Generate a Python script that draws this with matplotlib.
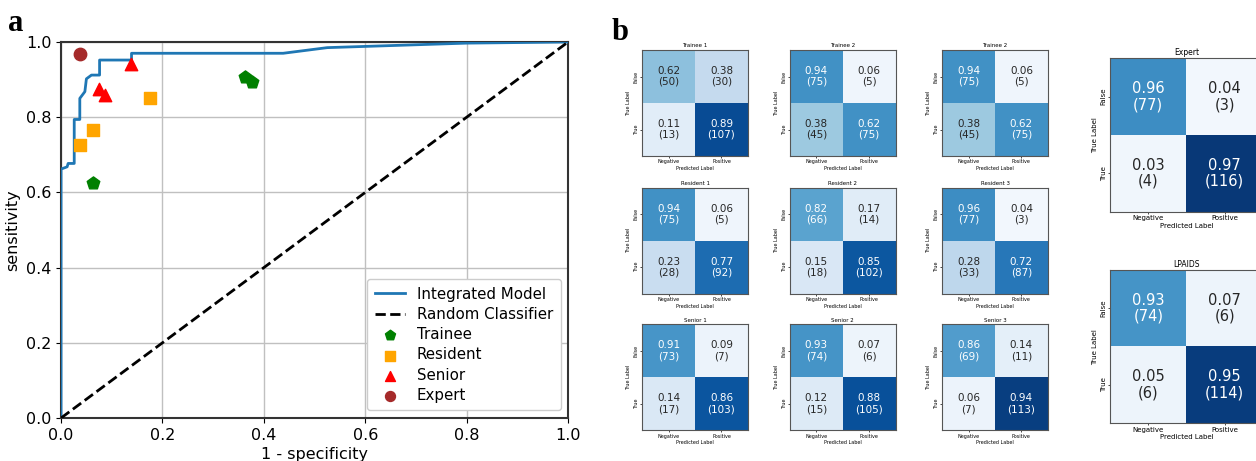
import matplotlib
matplotlib.use('Agg')
import matplotlib.pyplot as plt
import numpy as np

# ROC curve of the integrated model
roc_fpr = [0.0, 0.0, 0.012, 0.014, 0.026, 0.026, 0.037, 0.037, 0.047, 0.050, 0.060,
           0.076, 0.076, 0.139, 0.139, 0.438, 0.525, 0.80, 1.0]
roc_tpr = [0.0, 0.662, 0.668, 0.677, 0.677, 0.794, 0.794, 0.850, 0.868, 0.902, 0.912,
           0.912, 0.952, 0.952, 0.970, 0.970, 0.985, 0.997, 1.0]

# reader operating points
trainee_fpr = [0.063, 0.362, 0.376]
trainee_tpr = [0.625, 0.908, 0.893]
resident_fpr = [0.0625, 0.175, 0.0375]
resident_tpr = [0.767, 0.850, 0.725]
senior_fpr = [0.0875, 0.075, 0.1375]
senior_tpr = [0.858, 0.875, 0.942]
expert_fpr = [0.0375]
expert_tpr = [0.967]

# confusion matrices: [[TN, FP], [FN, TP]]
small_titles = ['Trainee 1', 'Trainee 2', 'Trainee 2',
                'Resident 1', 'Resident 2', 'Resident 3',
                'Senior 1', 'Senior 2', 'Senior 3']
small_counts = [
    [[50, 30], [13, 107]],
    [[75, 5], [45, 75]],
    [[75, 5], [45, 75]],
    [[75, 5], [28, 92]],
    [[66, 14], [18, 102]],
    [[77, 3], [33, 87]],
    [[73, 7], [17, 103]],
    [[74, 6], [15, 105]],
    [[69, 11], [7, 113]],
]
small_rates = [
    [[0.62, 0.38], [0.11, 0.89]],
    [[0.94, 0.06], [0.38, 0.62]],
    [[0.94, 0.06], [0.38, 0.62]],
    [[0.94, 0.06], [0.23, 0.77]],
    [[0.82, 0.17], [0.15, 0.85]],
    [[0.96, 0.04], [0.28, 0.72]],
    [[0.91, 0.09], [0.14, 0.86]],
    [[0.93, 0.07], [0.12, 0.88]],
    [[0.86, 0.14], [0.06, 0.94]],
]
big_titles = ['Expert', 'LPAIDS']
big_counts = [[[77, 3], [4, 116]], [[74, 6], [6, 114]]]
big_rates = [[[0.96, 0.04], [0.03, 0.97]], [[0.93, 0.07], [0.05, 0.95]]]

pred_labels = ['Negative', 'Positive']
true_labels = ['False', 'True']


def draw_cm(ax, counts, rates, title, fs_val, fs_small):
    counts = np.asarray(counts)
    ax.imshow(counts, cmap='Blues', vmin=0, vmax=120, aspect='auto')
    for i in range(2):
        for j in range(2):
            col = 'white' if counts[i, j] > 60 else '#262626'
            ax.text(j, i, '%.2f\n(%d)' % (rates[i][j], counts[i, j]),
                    ha='center', va='center', color=col, fontsize=fs_val,
                    linespacing=1.1)
    ax.set_xticks([0, 1])
    ax.set_xticklabels(pred_labels, fontsize=fs_small)
    ax.set_yticks([0, 1])
    ax.set_yticklabels(true_labels, fontsize=fs_small, rotation=90, va='center')
    ax.set_xlabel('Predicted Label', fontsize=fs_small, labelpad=1)
    ax.set_ylabel('True Label', fontsize=fs_small, labelpad=2)
    ax.set_title(title, fontsize=fs_small + 0.5, pad=2)
    ax.tick_params(length=1.5, width=0.5, pad=1)
    for s in ax.spines.values():
        s.set_color('#555555')
        s.set_linewidth(0.8)


fig = plt.figure(figsize=(12.56, 4.61), dpi=100)

# panel a
ax = fig.add_axes([0.0486, 0.0933, 0.4037, 0.8156])
ax.plot(roc_fpr, roc_tpr, color='#1f77b4', lw=2, label='Integrated Model', zorder=3)
ax.plot([0, 1], [0, 1], 'k--', lw=2, label='Random Classifier', zorder=3)
ax.scatter(trainee_fpr, trainee_tpr, marker='p', s=90, color='green', label='Trainee', zorder=4)
ax.scatter(resident_fpr, resident_tpr, marker='s', s=70, color='orange', label='Resident', zorder=4)
ax.scatter(senior_fpr, senior_tpr, marker='^', s=80, color='red', label='Senior', zorder=4)
ax.scatter(expert_fpr, expert_tpr, marker='o', s=80, color='brown', label='Expert', zorder=4)
ax.set_xlim(0, 1)
ax.set_ylim(0, 1)
ax.grid(True, color='#c0c0c0', lw=1)
ax.set_axisbelow(True)
ax.tick_params(labelsize=11.5)
ax.set_xlabel('1 - specificity', fontsize=11.5, labelpad=3)
ax.set_ylabel('sensitivity', fontsize=11.5)
for s in ax.spines.values():
    s.set_linewidth(1.5)
    s.set_color('#333333')
ax.legend(loc='lower right', fontsize=10.8, handlelength=2.0, borderpad=0.5,
          labelspacing=0.35, markerscale=0.8, fancybox=True, framealpha=1)

fig.text(0.006, 0.95, 'a', fontsize=22, fontweight='bold', family='Liberation Serif', va='center')
fig.text(0.487, 0.93, 'b', fontsize=22, fontweight='bold', family='Liberation Serif', va='center')

# panel b: 3x3 small matrices
col_x = [0.5114, 0.6290, 0.7502]
row_y = [0.6616, 0.3629, 0.0666]
for k in range(9):
    r, c = divmod(k, 3)
    cax = fig.add_axes([col_x[c], row_y[r], 0.0840, 0.2299])
    draw_cm(cax, small_counts[k], small_rates[k], small_titles[k], 7.5, 3.5)

# two larger matrices (cut off at the right edge)
big_y = [0.5408, 0.0818]
for k in range(2):
    cax = fig.add_axes([0.8838, big_y[k], 0.1218, 0.3328])
    draw_cm(cax, big_counts[k], big_rates[k], big_titles[k], 10.5, 5)

fig.savefig('out.png', dpi=100)
